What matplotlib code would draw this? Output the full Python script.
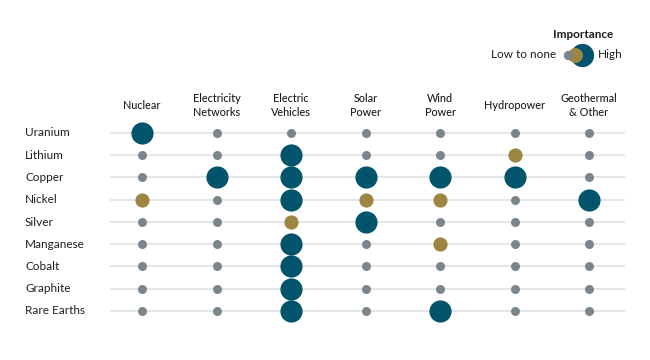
import numpy as np
import matplotlib
matplotlib.use("Agg")
import matplotlib.pyplot as plt

plt.rcParams['font.family'] = ['Lato', 'DejaVu Sans']

columns = ["Nuclear", "Electricity\nNetworks", "Electric\nVehicles", "Solar\nPower",
           "Wind\nPower", "Hydropower", "Geothermal\n& Other"]
minerals = ["Uranium", "Lithium", "Copper", "Nickel", "Silver",
            "Manganese", "Cobalt", "Graphite", "Rare Earths"]
# 0 = low to none, 1 = medium, 2 = high
importance = [
    [2, 0, 0, 0, 0, 0, 0],
    [0, 0, 2, 0, 0, 1, 0],
    [0, 2, 2, 2, 2, 2, 0],
    [1, 0, 2, 1, 1, 0, 2],
    [0, 0, 1, 2, 0, 0, 0],
    [0, 0, 2, 0, 1, 0, 0],
    [0, 0, 2, 0, 0, 0, 0],
    [0, 0, 2, 0, 0, 0, 0],
    [0, 0, 2, 0, 2, 0, 0],
]

colors = {0: "#7b858c", 1: "#9c8642", 2: "#02546d"}
sizes = {0: 42, 1: 105, 2: 255}

fig = plt.figure(figsize=(6.5, 3.6), dpi=100)
W, H = 650, 360
ax = fig.add_axes([110 / W, 1 - 325 / H, 515 / W, 205 / H])
ax.set_xlim(-0.43, 6.48)
ax.set_ylim(8.63, -0.58)
ax.axis("off")

for i, name in enumerate(minerals):
    ax.axhline(i, color="#dfe1e3", lw=1.2, zorder=1)
    for j in range(len(columns)):
        v = importance[i][j]
        ax.scatter(j, i, s=sizes[v], color=colors[v], zorder=3, linewidths=0)
    fig.text(25 / W, 1 - (133 + i * 22.25) / H, name, fontsize=8.5, color="#1e1e1e",
             ha="left", va="center")

for j, col in enumerate(columns):
    x = (142 + j * 74.5) / W
    fig.text(x, 1 - 105.5 / H, col, fontsize=7.8, color="#1e1e1e", ha="center",
             va="center", linespacing=1.3, fontweight="medium")

# legend
fig.text(583 / W, 1 - 35 / H, "Importance", fontsize=8.5, fontweight="bold",
         color="#1e1e1e", ha="center", va="center")
fig.text(556 / W, 1 - 54 / H, "Low to none", fontsize=8.5, color="#1e1e1e",
         ha="right", va="center")
fig.text(598 / W, 1 - 54 / H, "High", fontsize=8.5, color="#1e1e1e",
         ha="left", va="center")
lax = fig.add_axes([0, 0, 1, 1], facecolor="none")
lax.set_xlim(0, W)
lax.set_ylim(H, 0)
lax.axis("off")
for v, lx in zip([2, 1, 0], [582, 575, 568]):
    lax.scatter(lx, 55, s=sizes[v] * 1.1, color=colors[v], linewidths=0)

fig.savefig("out.png", dpi=100, facecolor="white")
